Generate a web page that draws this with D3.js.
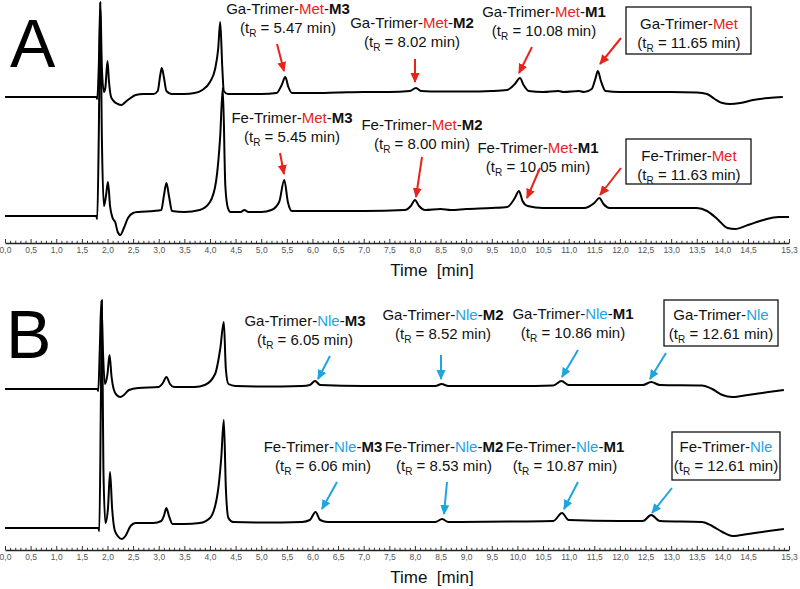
<!DOCTYPE html>
<html><head><meta charset="utf-8">
<script src="https://cdn.jsdelivr.net/npm/d3@7"></script>
<style>
html,body{margin:0;padding:0;background:#fff;}
svg{display:block;font-family:"Liberation Sans",Arial,sans-serif;}
</style></head>
<body><svg id="chart" width="800" height="589"></svg>
<script>
// ---------- DATA (time in min, signal in arbitrary units relative to baseline) ----------
const tickLabels = ["0,0","0,5","1,0","1,5","2,0","2,5","3,0","3,5","4,0","4,5","5,0","5,5","6,0","6,5","7,0","7,5","8,0","8,5","9,0","9,5","10,0","10,5","11,0","11,5","12,0","12,5","13,0","13,5","14,0","14,5","15,3"];
const tickValues = [0,0.5,1,1.5,2,2.5,3,3.5,4,4.5,5,5.5,6,6.5,7,7.5,8,8.5,9,9.5,10,10.5,11,11.5,12,12.5,13,13.5,14,14.5,15.3];

const gaMet = [[0,0],[1.78,0],[1.80,-2],[1.83,30],[1.86,95],[1.89,30],[1.93,5],[1.96,10],[2.00,36],[2.03,15],[2.07,0],[2.12,-4],[2.20,-7],[2.27,-8],[2.35,-5],[2.45,-1],[2.55,2],[2.7,3],[2.9,3],[2.98,6],[3.03,22],[3.06,29],[3.10,20],[3.15,6],[3.25,3],[3.5,3],[3.7,4],[3.85,7],[4.0,15],[4.1,28],[4.16,48],[4.20,75],[4.24,30],[4.27,6],[4.35,3],[4.6,3],[5.0,3],[5.3,4],[5.40,12],[5.47,20],[5.53,10],[5.6,4],[6.0,4],[6.5,4.5],[7.0,5],[7.5,5],[7.9,6],[8.02,9],[8.12,6],[8.5,5.5],[9.0,5.5],[9.5,6],[9.8,7],[9.95,13],[10.05,19],[10.12,12],[10.22,6],[10.5,5],[10.8,6],[10.9,5],[11.2,6],[11.3,5],[11.45,8],[11.52,18],[11.57,26],[11.63,16],[11.72,6],[12.0,5],[12.5,5],[13.0,5],[13.5,4.5],[13.7,3],[13.85,-2],[14.0,-6],[14.15,-7],[14.35,-6],[14.6,-3],[14.9,-1],[15.18,0]];

const feMet = [[0,0],[1.78,0],[1.80,-3],[1.83,80],[1.86,214],[1.89,80],[1.93,10],[1.97,20],[2.01,34],[2.05,10],[2.10,-2],[2.15,-6],[2.20,-16],[2.25,-19],[2.32,-12],[2.40,-2],[2.5,3],[2.6,4],[2.9,5],[3.05,6],[3.10,20],[3.15,33],[3.20,20],[3.26,5],[3.5,4],[3.8,6],[4.0,14],[4.12,35],[4.20,80],[4.25,128],[4.30,30],[4.35,8],[4.4,4],[4.6,4],[4.67,6],[4.75,4],[5.0,4],[5.2,6],[5.35,14],[5.45,36],[5.52,14],[5.6,5],[6.0,5],[7.0,5],[7.8,6],[7.92,10],[8.0,16],[8.08,10],[8.2,6],[8.5,7],[8.7,6],[9.0,7],[9.5,8],[9.8,9],[9.95,18],[10.03,25],[10.1,15],[10.2,10],[10.5,8],[11.0,8],[11.3,8],[11.5,13],[11.6,18],[11.68,12],[11.8,8],[12.5,8],[13.0,8],[13.5,8],[13.7,5],[13.9,-3],[14.1,-12],[14.25,-13],[14.5,-9],[14.8,-4],[15.1,-1],[15.3,-1]];

const gaNle = [[0,0],[1.80,0],[1.82,-2],[1.85,40],[1.88,88],[1.91,40],[1.95,5],[2.0,15],[2.04,34],[2.08,12],[2.12,0],[2.18,-6],[2.25,-8],[2.32,-6],[2.42,-1],[2.6,1],[3.0,2],[3.08,6],[3.15,12],[3.22,5],[3.3,2],[3.7,2],[3.9,4],[4.1,15],[4.2,40],[4.27,67],[4.31,20],[4.36,5],[4.5,3],[5.0,2.5],[5.8,3],[5.95,4],[6.05,8],[6.15,4],[7.0,3],[8.4,3],[8.52,5],[8.65,3],[10.0,3],[10.7,3.5],[10.86,8],[11.0,4],[12.0,4],[12.45,4],[12.61,7],[12.78,4],[13.6,3.5],[13.8,0],[14.0,-6],[14.2,-8],[14.5,-6],[14.9,-3],[15.2,-1]];

const feNle = [[0,0],[1.82,0],[1.84,-3],[1.87,120],[1.89,228],[1.92,60],[1.96,5],[2.01,20],[2.05,56],[2.09,20],[2.14,-2],[2.2,-8],[2.28,-11],[2.35,-8],[2.45,2],[2.55,5],[2.9,5],[3.05,7],[3.1,12],[3.15,20],[3.2,12],[3.27,4],[3.5,4],[3.8,5],[4.0,10],[4.15,35],[4.22,70],[4.27,108],[4.31,40],[4.36,10],[4.45,6],[5.0,5.5],[5.8,6],[5.95,8],[6.06,16],[6.15,8],[6.3,6],[8.4,6],[8.53,9],[8.65,6],[10.0,6.5],[10.7,7],[10.87,15],[11.0,8],[12.0,7],[12.45,7],[12.61,13],[12.78,7],[13.6,6],[13.8,2],[14.0,-4],[14.2,-8],[14.5,-6],[14.9,-3],[15.2,-1]];

const metLabels = ["Ga-Trimer-Met-M3","Ga-Trimer-Met-M2","Ga-Trimer-Met-M1","Ga-Trimer-Met","Fe-Trimer-Met-M3","Fe-Trimer-Met-M2","Fe-Trimer-Met-M1","Fe-Trimer-Met"];
const metTimes = ["5.47","8.02","10.08","11.65","5.45","8.00","10.05","11.63"];
const nleLabels = ["Ga-Trimer-Nle-M3","Ga-Trimer-Nle-M2","Ga-Trimer-Nle-M1","Ga-Trimer-Nle","Fe-Trimer-Nle-M3","Fe-Trimer-Nle-M2","Fe-Trimer-Nle-M1","Fe-Trimer-Nle"];
const nleTimes = ["6.05","8.52","10.86","12.61","6.06","8.53","10.87","12.61"];

// ---------- LAYOUT ----------
const svg = d3.select("#chart");
const RED = "#e8231c", CYAN = "#1ea5e0";
const x = d3.scaleLinear().domain([0, 15.3]).range([5, 789]);

const defs = svg.append("defs");
[["red",RED],["cyan",CYAN]].forEach(([id,c]) => {
  defs.append("marker").attr("id","ah-"+id).attr("viewBox","0 0 10 10")
    .attr("refX",9).attr("refY",5).attr("markerWidth",10).attr("markerHeight",10)
    .attr("markerUnits","userSpaceOnUse").attr("orient","auto")
    .append("path").attr("d","M0,0.5 L10,5 L0,9.5 Z").attr("fill",c);
});

function panel(cfg) {
  const y = d3.scaleLinear().domain([0, 100]).range([cfg.base, cfg.base - 100]);
  const line = d3.line().x(d => x(d[0])).y(d => y(d[1])).curve(d3.curveMonotoneX);
  const g = svg.append("g");
  cfg.traces.forEach(tr => {
    g.append("path").datum(tr.data.map(d => [d[0], d[1] + tr.offset]))
      .attr("d", line).attr("fill","none").attr("stroke","#000")
      .attr("stroke-width",2).attr("stroke-linejoin","round");
  });
  // axis
  const axis = d3.axisTop(x).tickValues(d3.range(0, 153).map(i => i/10).concat([15.3]))
    .tickSize(0).tickFormat("");
  const ax = g.append("g").attr("transform",`translate(0,${cfg.axisY})`).call(axis);
  ax.select(".domain").attr("stroke","#222").attr("stroke-width",1.3);
  ax.selectAll(".tick line").remove();
  ax.selectAll(".tick").append("line")
    .attr("y2", d => (Math.abs(d*2 - Math.round(d*2)) < 1e-6 || d === 15.3) ? -4 : -2.2)
    .attr("stroke","#333").attr("stroke-width",1);
  const lab = d3.axisBottom(x).tickValues(tickValues).tickSize(0)
    .tickFormat((d,i) => tickLabels[i]);
  const lx = g.append("g").attr("transform",`translate(0,${cfg.axisY+1})`).call(lab);
  lx.select(".domain").remove();
  lx.selectAll("text").attr("font-size","8.5px").attr("fill","#555")
    .attr("font-family","'Liberation Sans',Arial,sans-serif");
  g.append("text").attr("x",432).attr("y",cfg.axisY+33).attr("text-anchor","middle")
    .attr("font-size","17px").attr("fill","#111").style("white-space","pre").text("Time  [min]");
  g.append("text").attr("x",cfg.letterX).attr("y",cfg.letterY).attr("font-size","68px")
    .attr("fill","#000").text(cfg.letter);

  // annotations
  cfg.ann.forEach((a, i) => {
    const name = cfg.labels[i], tr = cfg.times[i];
    const parts = name.split("-");  // e.g. Ga, Trimer, Met, M3
    if (a.box) {
      g.append("rect").attr("x",a.box[0]).attr("y",a.box[1]).attr("width",a.box[2])
        .attr("height",a.box[3]).attr("fill","#fff").attr("stroke","#111").attr("stroke-width",1.3);
    }
    const t1 = g.append("text").attr("x",a.cx).attr("y",a.b1).attr("text-anchor","middle")
      .attr("font-size","15px").attr("fill","#111");
    t1.append("tspan").text(parts[0] + "-" + parts[1] + "-");
    t1.append("tspan").attr("fill", cfg.color).text(parts[2]);
    if (parts[3]) {
      t1.append("tspan").text("-");
      t1.append("tspan").attr("font-weight","bold").text(parts[3]);
    }
    const t2 = g.append("text").attr("x",a.cx).attr("y",a.b1 + 18.5).attr("text-anchor","middle")
      .attr("font-size","15px").attr("fill","#111").style("white-space","pre");
    t2.append("tspan").text("(t");
    t2.append("tspan").attr("dy",4).attr("font-size","10px").text("R");
    t2.append("tspan").attr("dy",-4).text(" = " + tr + " min)");
    g.append("line").attr("x1",a.from[0]).attr("y1",a.from[1]).attr("x2",a.to[0]).attr("y2",a.to[1])
      .attr("stroke",cfg.color).attr("stroke-width",2)
      .attr("marker-end", `url(#ah-${cfg.color === RED ? "red" : "cyan"})`);
  });
}

panel({
  base: 216, axisY: 243, letter: "A", letterX: 10, letterY: 67, color: RED,
  traces: [{data: feMet, offset: 0}, {data: gaMet, offset: 119}],
  labels: metLabels, times: metTimes,
  ann: [
    {cx: 288, b1: 14, from: [277,44], to: [284,71]},
    {cx: 412, b1: 28, from: [415,59], to: [415,82]},
    {cx: 544, b1: 17, from: [532,47], to: [519,73]},
    {cx: 689, b1: 29, box: [626,7,125,47], from: [621,38], to: [600,64]},
    {cx: 292, b1: 123, from: [280,153], to: [284,174]},
    {cx: 422, b1: 130, from: [422,157], to: [416,197]},
    {cx: 538, b1: 153, from: [540,168], to: [527,198]},
    {cx: 689, b1: 161, box: [626,139,125,45], from: [621,168], to: [600,195]}
  ]
});

panel({
  base: 528, axisY: 550, letter: "B", letterX: 6, letterY: 358, color: CYAN,
  traces: [{data: feNle, offset: 0}, {data: gaNle, offset: 139}],
  labels: nleLabels, times: nleTimes,
  ann: [
    {cx: 305, b1: 326, from: [330,356], to: [318,379]},
    {cx: 443, b1: 320, from: [441,355], to: [441,379]},
    {cx: 573, b1: 319, from: [578,350], to: [562,377]},
    {cx: 721, b1: 320, box: [664,300,114,46], from: [666,353], to: [650,379]},
    {cx: 323, b1: 452, from: [337,482], to: [322,509]},
    {cx: 444, b1: 452, from: [447,482], to: [444,514]},
    {cx: 565, b1: 452, from: [578,482], to: [564,509]},
    {cx: 726, b1: 452, box: [672,432,108,48], from: [672,488], to: [652,513]}
  ]
});
</script></body></html>
